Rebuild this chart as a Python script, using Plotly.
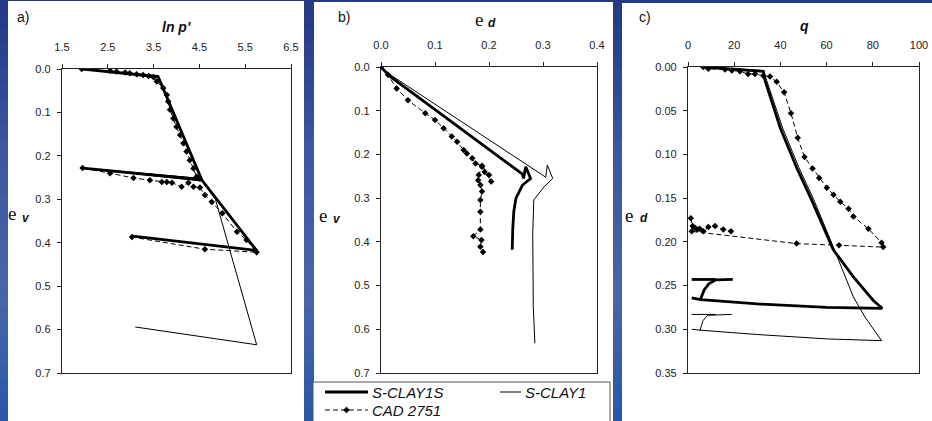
import plotly.graph_objects as go

W, H = 932, 421

# ---------------- DATA ----------------
# Panel a) ln p' vs e_v
a_s1s_x = [1.95, 3.6, 4.55, 1.95, 4.55, 5.75, 3.05]
a_s1s_y = [0.0, 0.018, 0.255, 0.228, 0.255, 0.418, 0.385]

a_s1_x = [1.95, 3.6, 4.55, 1.95, 4.55, 4.85, 5.75, 3.1]
a_s1_y = [0.0, 0.015, 0.252, 0.228, 0.258, 0.30, 0.635, 0.594]

a_cad_x = [1.93, 2.55, 2.69, 2.88, 2.98, 3.13, 3.27, 3.39, 3.5, 3.57, 3.71, 3.79, 3.82, 3.86,
           3.93, 4.0, 4.08, 4.15, 4.22, 4.29, 4.37, 4.44, 4.5, 1.95, 2.55, 3.06, 3.42, 3.68,
           3.79, 3.9, 4.11, 4.26, 4.37, 4.51, 4.62, 4.77, 5.0, 5.32, 5.53, 5.71, 5.75, 4.62, 3.03]
a_cad_y = [0.0, 0.004, 0.006, 0.008, 0.01, 0.012, 0.014, 0.016, 0.019, 0.029, 0.044, 0.06, 0.075,
           0.094, 0.114, 0.133, 0.152, 0.171, 0.19, 0.21, 0.229, 0.248, 0.252, 0.228, 0.24, 0.251,
           0.256, 0.26, 0.26, 0.262, 0.271, 0.262, 0.271, 0.273, 0.29, 0.306, 0.332, 0.375, 0.394,
           0.417, 0.422, 0.415, 0.387]

# Panel b) e_d vs e_v
b_s1s_x = [0.0, 0.015, 0.262, 0.264, 0.268, 0.277, 0.262, 0.25, 0.246, 0.244, 0.243]
b_s1s_y = [0.0, 0.02, 0.245, 0.255, 0.228, 0.255, 0.27, 0.30, 0.33, 0.37, 0.418]

b_s1_x = [0.0, 0.02, 0.305, 0.308, 0.318, 0.302, 0.283, 0.281, 0.282, 0.285]
b_s1_y = [0.0, 0.02, 0.252, 0.224, 0.255, 0.274, 0.304, 0.38, 0.548, 0.632]

b_cad_x = [0.0, 0.013, 0.029, 0.05, 0.082, 0.1, 0.116, 0.131, 0.141, 0.153, 0.159, 0.169, 0.175,
           0.187, 0.2, 0.204, 0.192, 0.187, 0.181, 0.18, 0.184, 0.187, 0.184, 0.184, 0.184,
           0.171, 0.186, 0.184, 0.189]
b_cad_y = [0.0, 0.018, 0.049, 0.076, 0.106, 0.121, 0.14, 0.159, 0.171, 0.19, 0.198, 0.209, 0.221,
           0.226, 0.247, 0.262, 0.24, 0.228, 0.247, 0.259, 0.27, 0.285, 0.304, 0.331, 0.372,
           0.387, 0.396, 0.411, 0.423]

# Panel c) q vs e_d
c_s1s_x = [6.6, 32.6, 33.3, 40.0, 47.0, 53.5, 62.9, 71.6, 80.2, 84.1, 60.0, 30.0, 5.5, 1.6,
           None, 5.5, 7.0, 9.0, 12.0, 19.4, None, 1.6, 12.0]
c_s1s_y = [0.0, 0.005, 0.015, 0.07, 0.115, 0.152, 0.209, 0.24, 0.267, 0.276, 0.275, 0.271, 0.266,
           0.264, None, 0.265, 0.255, 0.248, 0.2435, 0.243, None, 0.243, 0.243]

c_s1_x = [6.6, 32.6, 34.0, 41.0, 48.0, 54.5, 62.0, 71.6, 76.6, 83.8, 60.0, 30.0, 5.2, 1.6,
          None, 5.2, 6.5, 8.5, 12.0, 18.9, None, 1.6, 12.0]
c_s1_y = [0.0, 0.004, 0.015, 0.07, 0.115, 0.152, 0.2, 0.263, 0.286, 0.313, 0.311, 0.306, 0.301,
          0.30, None, 0.301, 0.29, 0.284, 0.2835, 0.283, None, 0.283, 0.283]

c_cad_x = [6.6, 8.8, 16.0, 19.0, 22.5, 26.0, 29.0, 32.6, 35.5, 38.4, 41.6, 44.6, 47.5, 50.4, 53.9,
           56.8, 60.1, 63.0, 65.9, 69.5, 71.6, 78.1, 83.8, 84.5, 65.4, 47.0, 1.6,
           None, 1.2, 2.0, 3.0, 4.0, 5.0, 6.6, 8.8, 11.7, 15.3, 18.6]
c_cad_y = [0.0, 0.002, 0.003, 0.004, 0.005, 0.008, 0.008, 0.01, 0.011, 0.017, 0.029, 0.053, 0.081,
           0.103, 0.116, 0.127, 0.138, 0.146, 0.154, 0.162, 0.171, 0.185, 0.201, 0.206, 0.204,
           0.202, 0.188, None, 0.173, 0.182, 0.184, 0.186, 0.185, 0.188, 0.183, 0.182, 0.186, 0.188]

names = ["S-CLAY1S", "S-CLAY1", "CAD 2751"]
panel_labels = ["a)", "b)", "c)"]
x_titles = ["<b><i>ln p'</i></b>", None, "<b><i>q</i></b>"]

# ---------------- FIGURE ----------------
fig = go.Figure()

thick = dict(color="black", width=2.8)
thin = dict(color="black", width=1)
dash = dict(color="black", width=1, dash="5px,3px")
mk = dict(symbol="diamond", size=5, color="black")

panels = [
    ("x", "y", (a_s1s_x, a_s1s_y), (a_s1_x, a_s1_y), (a_cad_x, a_cad_y)),
    ("x2", "y2", (b_s1s_x, b_s1s_y), (b_s1_x, b_s1_y), (b_cad_x, b_cad_y)),
    ("x3", "y3", (c_s1s_x, c_s1s_y), (c_s1_x, c_s1_y), (c_cad_x, c_cad_y)),
]
for xa, ya, s1s, s1, cad in panels:
    fig.add_trace(go.Scatter(x=s1s[0], y=s1s[1], mode="lines", line=thick, name=names[0],
                             showlegend=False, xaxis=xa, yaxis=ya))
    fig.add_trace(go.Scatter(x=s1[0], y=s1[1], mode="lines", line=thin, name=names[1],
                             showlegend=False, xaxis=xa, yaxis=ya))
    fig.add_trace(go.Scatter(x=cad[0], y=cad[1], mode="lines+markers", line=dash, marker=mk,
                             name=names[2], showlegend=False, xaxis=xa, yaxis=ya))

tickfont = dict(family="Liberation Sans, Arial", size=11, color="#222")
common = dict(showgrid=False, zeroline=False, showline=True, linecolor="#222", linewidth=1.3,
              mirror=True, ticks="outside", ticklen=4, tickcolor="#222", tickwidth=1,
              tickfont=tickfont)


def dom_x(l, r):
    return [l / W, r / W]


def dom_y(t, b):
    return [1 - b / H, 1 - t / H]


def PX(x):
    return x / W


def PY(y):
    return 1 - y / H


layout = dict(
    width=W, height=H, margin=dict(l=0, r=0, t=0, b=0, autoexpand=False),
    paper_bgcolor="#3a54a0", plot_bgcolor="white", showlegend=False,
    xaxis=dict(domain=dom_x(62, 291), range=[1.5, 6.5], tick0=1.5, dtick=1, tickformat=".1f",
               side="top", anchor="y", ticklabelstandoff=8, **common),
    yaxis=dict(domain=dom_y(69, 373), range=[0.7, 0], dtick=0.1, tickformat=".1f", anchor="x",
               ticklabelstandoff=4, **common),
    xaxis2=dict(domain=dom_x(381, 597), range=[0, 0.4], dtick=0.1, tickformat=".1f",
                side="top", anchor="y2", ticklabelstandoff=8, **common),
    yaxis2=dict(domain=dom_y(67, 373), range=[0.7, 0], dtick=0.1, tickformat=".1f", anchor="x2",
                ticklabelstandoff=4, **common),
    xaxis3=dict(domain=dom_x(688, 919), range=[0, 100], dtick=20, side="top", anchor="y3",
                ticklabelstandoff=8, **common),
    yaxis3=dict(domain=dom_y(67, 373), range=[0.35, 0], dtick=0.05, tickformat=".2f",
                anchor="x3", ticklabelstandoff=4, **common),
)
fig.update_layout(**layout)

# background gradient + white panels
shapes = []
grad = [(0.0, (36, 56, 132)), (0.35, (60, 86, 160)), (0.7, (74, 102, 170)), (1.0, (40, 88, 168))]


def col_at(t):
    for i in range(len(grad) - 1):
        t0, c0 = grad[i]
        t1, c1 = grad[i + 1]
        if t0 <= t <= t1:
            f = (t - t0) / (t1 - t0)
            return "rgb(%d,%d,%d)" % tuple(int(c0[k] + f * (c1[k] - c0[k])) for k in range(3))
    return "rgb(%d,%d,%d)" % grad[-1][1]


nb = 30
for i in range(nb):
    y0 = i / nb
    y1 = (i + 1) / nb
    shapes.append(dict(type="rect", xref="paper", yref="paper", x0=0, x1=1, y0=1 - y1,
                       y1=1 - y0 + 0.002, fillcolor=col_at((i + 0.5) / nb), line_width=0,
                       layer="below"))
for l, r, t in [(8, 304, 1), (314, 613, 2), (622, 932, 3)]:
    shapes.append(dict(type="rect", xref="paper", yref="paper", x0=PX(l), x1=PX(r),
                       y0=0, y1=PY(t), fillcolor="white", line_width=0, layer="below"))

# legend box (drawn by hand to match the original layout)
shapes.append(dict(type="rect", xref="paper", yref="paper", x0=PX(313), x1=PX(610),
                   y0=PY(425), y1=PY(382), fillcolor="white",
                   line=dict(color="#555", width=1), layer="above"))
leg_rows = [(325, 368, 392, thick, names[0], False), (500, 521, 392, thin, names[1], False),
            (325, 368, 410, dash, names[2], True)]
ann = []
leg_font = dict(family="Liberation Sans, Arial", size=15, color="#111", style="italic")
for x0, x1, yy, ln, nm, has_mk in leg_rows:
    shapes.append(dict(type="line", xref="paper", yref="paper", x0=PX(x0), x1=PX(x1),
                       y0=PY(yy), y1=PY(yy), line=ln, layer="above"))
    if has_mk:
        cx = (x0 + x1) / 2
        d = 3
        path = "M %f,%f L %f,%f L %f,%f L %f,%f Z" % (
            PX(cx - d), PY(yy), PX(cx), PY(yy - d), PX(cx + d), PY(yy), PX(cx), PY(yy + d))
        shapes.append(dict(type="path", xref="paper", yref="paper", path=path,
                           fillcolor="black", line=dict(color="black", width=0.5),
                           layer="above"))
    ann.append(dict(text=nm, x=PX(x1 + 2), y=PY(yy), xref="paper", yref="paper",
                    xanchor="left", yanchor="middle", showarrow=False, font=leg_font))
fig.update_layout(shapes=shapes)

lab_font = dict(family="Liberation Sans, Arial", size=14, color="#111")
for lab, xpx in zip(panel_labels, [15, 336, 637]):
    ann.append(dict(text=lab, x=PX(xpx), y=PY(17), xref="paper", yref="paper",
                    xanchor="left", yanchor="middle", showarrow=False, font=lab_font))

ttl_font = dict(family="Liberation Sans, Arial", size=14, color="#111")
ann.append(dict(text=x_titles[0], x=PX(176), y=PY(27), xref="paper", yref="paper",
                xanchor="center", yanchor="middle", showarrow=False, font=ttl_font))
ann.append(dict(text=x_titles[2], x=PX(804), y=PY(26), xref="paper", yref="paper",
                xanchor="center", yanchor="middle", showarrow=False, font=ttl_font))

e_font = dict(family="Liberation Serif, Times New Roman", size=19, color="#111")
sub_font = dict(family="Liberation Sans, Arial", size=12, color="#111")
# (e-centre x, e-centre y, subscript letter, subscript x, subscript y)
sym_labels = [(479, 19, "d", 492, 23), (12, 213, "v", 26, 218), (323, 215, "v", 337, 219),
              (629, 215, "d", 644, 218)]
for ex, ey, s, sx, sy in sym_labels:
    ann.append(dict(text="e", x=PX(ex), y=PY(ey), xref="paper", yref="paper",
                    xanchor="center", yanchor="middle", showarrow=False, font=e_font))
    ann.append(dict(text="<b><i>%s</i></b>" % s, x=PX(sx), y=PY(sy), xref="paper",
                    yref="paper", xanchor="center", yanchor="middle", showarrow=False,
                    font=sub_font))
fig.update_layout(annotations=ann)

fig.write_html("out.html")
